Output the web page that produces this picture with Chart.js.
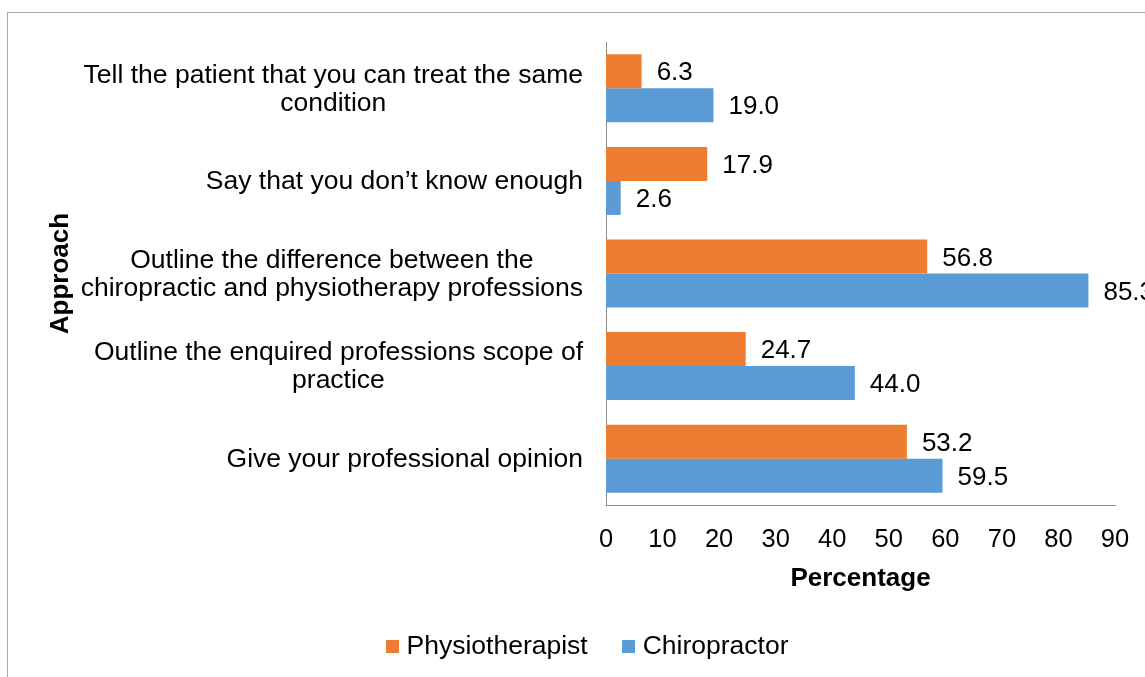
<!DOCTYPE html>
<html>
<head>
<meta charset="utf-8">
<script src="https://cdn.jsdelivr.net/npm/chart.js@4/dist/chart.umd.min.js"></script>
<style>
  html, body { margin: 0; padding: 0; background: #fff; }
  #chart { display: block; }
</style>
</head>
<body>
<canvas id="chart" width="1145" height="677"></canvas>
<script>
const categories = [
  ['Tell the patient that you can treat the same', 'condition'],
  ['Say that you don\u2019t know enough'],
  ['Outline the difference between the', 'chiropractic and physiotherapy professions'],
  ['Outline the enquired professions scope of', 'practice'],
  ['Give your professional opinion'],
];
const physioValues = [6.3, 17.9, 56.8, 24.7, 53.2];
const chiroValues = [19.0, 2.6, 85.3, 44.0, 59.5];
const seriesNames = ['Physiotherapist', 'Chiropractor'];
const xTicks = [0, 10, 20, 30, 40, 50, 60, 70, 80, 90];

const fontFamily = '"Liberation Sans", Arial, sans-serif';
const colors = {
  physio: '#ED7D31',
  chiro: '#5B9BD5',
  axis: '#8c8c8c',
  frame: '#ababab',
  text: '#000000',
};

// frame around the whole chart (only left and top edges are visible)
const framePlugin = {
  id: 'frame',
  beforeDraw(chart) {
    const { ctx } = chart;
    ctx.save();
    ctx.strokeStyle = colors.frame;
    ctx.lineWidth = 1;
    ctx.strokeRect(7.5, 12.5, 1300, 800);
    ctx.restore();
  },
};

// category labels: block right-aligned, lines centred inside the block
const categoryLabelPlugin = {
  id: 'categoryLabels',
  afterDraw(chart) {
    const { ctx } = chart;
    const yScale = chart.scales.y;
    const rightEdge = chart.chartArea.left - 23;
    const lineHeight = 28;
    ctx.save();
    ctx.font = `26.5px ${fontFamily}`;
    ctx.fillStyle = colors.text;
    ctx.textAlign = 'center';
    ctx.textBaseline = 'middle';
    categories.forEach((lines, i) => {
      const y = yScale.getPixelForValue(i) + 1;
      const widest = Math.max(...lines.map((line) => ctx.measureText(line).width));
      const cx = rightEdge - widest / 2;
      lines.forEach((line, j) => {
        ctx.fillText(line, cx, y + (j - (lines.length - 1) / 2) * lineHeight);
      });
    });
    ctx.restore();
  },
};

// value labels to the right of each bar
const valueLabelPlugin = {
  id: 'valueLabels',
  afterDatasetsDraw(chart) {
    const { ctx } = chart;
    ctx.save();
    ctx.font = `26px ${fontFamily}`;
    ctx.fillStyle = colors.text;
    ctx.textAlign = 'left';
    ctx.textBaseline = 'middle';
    chart.data.datasets.forEach((dataset, di) => {
      chart.getDatasetMeta(di).data.forEach((bar, i) => {
        ctx.fillText(dataset.data[i].toFixed(1), bar.x + 15, bar.y + 2);
      });
    });
    ctx.restore();
  },
};

// legend under the axis title, centred like the original
const legendPlugin = {
  id: 'bottomLegend',
  afterDraw(chart) {
    const { ctx } = chart;
    const centerX = 587;
    const y = 647;
    const box = 13;
    const textGap = 21;
    const itemGap = 34;
    ctx.save();
    ctx.font = `26.5px ${fontFamily}`;
    ctx.textAlign = 'left';
    ctx.textBaseline = 'middle';
    const items = chart.data.datasets.map((ds) => ({
      label: ds.label,
      color: ds.backgroundColor,
      width: textGap + ctx.measureText(ds.label).width,
    }));
    const total = items.reduce((sum, it) => sum + it.width, 0) + itemGap * (items.length - 1);
    let x = centerX - total / 2;
    items.forEach((it) => {
      ctx.fillStyle = it.color;
      ctx.fillRect(Math.round(x), y - 7, box, box);
      ctx.fillStyle = colors.text;
      ctx.fillText(it.label, x + textGap, y);
      x += it.width + itemGap;
    });
    ctx.restore();
  },
};

new Chart(document.getElementById('chart'), {
  type: 'bar',
  data: {
    labels: categories,
    datasets: [
      {
        label: seriesNames[0],
        data: physioValues,
        backgroundColor: colors.physio,
        categoryPercentage: 0.734,
        barPercentage: 1,
      },
      {
        label: seriesNames[1],
        data: chiroValues,
        backgroundColor: colors.chiro,
        categoryPercentage: 0.734,
        barPercentage: 1,
      },
    ],
  },
  options: {
    indexAxis: 'y',
    responsive: false,
    animation: false,
    layout: {
      padding: { top: 42, right: 30, bottom: 74, left: 0 },
    },
    plugins: {
      tooltip: { enabled: false },
      legend: { display: false },
    },
    scales: {
      x: {
        min: 0,
        max: 90,
        afterFit(scale) {
          scale.height = 98;
          scale.paddingLeft = 0;
          scale.paddingRight = 0;
        },
        afterBuildTicks(scale) {
          scale.ticks = xTicks.map((value) => ({ value }));
        },
        grid: { display: false, drawTicks: false },
        border: { display: true, color: colors.axis, width: 1 },
        ticks: {
          padding: 20,
          color: colors.text,
          font: { family: fontFamily, size: 25.5 },
        },
        title: {
          display: true,
          text: 'Percentage',
          color: colors.text,
          font: { family: fontFamily, size: 26, weight: 'bold' },
          padding: { top: 0, bottom: 9 },
        },
      },
      y: {
        afterFit(scale) {
          scale.width = 606;
        },
        grid: { display: false, drawTicks: false },
        border: { display: true, color: colors.axis, width: 1 },
        ticks: { display: false },
        title: {
          display: true,
          text: 'Approach',
          color: colors.text,
          font: { family: fontFamily, size: 26, weight: 'bold' },
          padding: { top: 45, bottom: 0 },
        },
      },
    },
  },
  plugins: [framePlugin, categoryLabelPlugin, valueLabelPlugin, legendPlugin],
});
</script>
</body>
</html>
